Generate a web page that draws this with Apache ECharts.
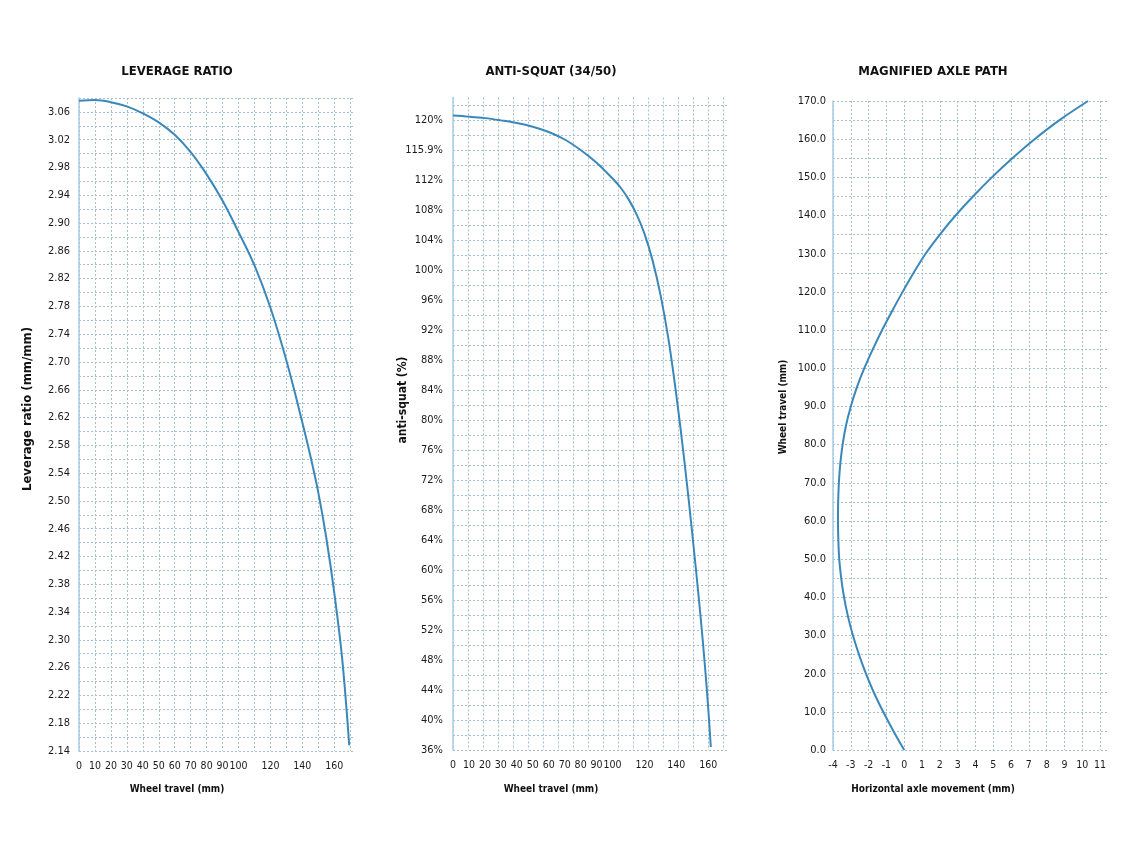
<!DOCTYPE html>
<html>
<head>
<meta charset="utf-8">
<style>
html,body{margin:0;padding:0;background:#fff;}
#chart{width:1140px;height:854px;}
</style>
<script src="https://cdn.jsdelivr.net/npm/echarts@6/dist/echarts.min.js"></script>
</head>
<body>
<div id="chart"></div>
<script>
// ---- Data ----
const titles = ['LEVERAGE RATIO', 'ANTI-SQUAT (34/50)', 'MAGNIFIED AXLE PATH'];
const xNames = ['Wheel travel (mm)', 'Wheel travel (mm)', 'Horizontal axle movement (mm)'];
const yNames = ['Leverage ratio (mm/mm)', 'anti-squat (%)', 'Wheel travel (mm)'];

// Leverage ratio vs wheel travel
const lrTravel = [0, 10, 20, 30, 40, 50, 60, 70, 80, 90, 100, 110, 120, 130, 140, 145, 150, 155, 160, 165, 169.4];
const lrValues = [3.076, 3.077, 3.074, 3.068, 3.058, 3.045, 3.027, 3.002, 2.970, 2.932, 2.887, 2.839, 2.778, 2.702, 2.613, 2.565, 2.512, 2.447, 2.368, 2.272, 2.148];

// Anti-squat vs wheel travel
const asTravel = [0, 10, 20, 30, 40, 50, 60, 70, 80, 90, 100, 105, 110, 115, 120, 125, 130, 135, 140, 145, 150, 155, 158, 160, 161.6];
const asValues = [120.6, 120.45, 120.25, 119.95, 119.6, 119.1, 118.4, 117.4, 116.0, 114.3, 112.2, 111.0, 109.45, 107.45, 104.85, 101.35, 96.75, 90.85, 83.3, 74.6, 64.8, 54.2, 47.0, 41.5, 36.4];

// Axle path: horizontal movement vs wheel travel
const axleTravel = [0, 5, 10, 15, 20, 25, 30, 35, 40, 45, 50, 55, 60, 65, 70, 75, 80, 85, 90, 95, 100, 105, 110, 115, 120, 125, 130, 135, 140, 145, 150, 155, 160, 165, 170];
const axleX = [0, -0.61, -1.18, -1.70, -2.15, -2.54, -2.88, -3.16, -3.38, -3.54, -3.65, -3.70, -3.72, -3.71, -3.67, -3.59, -3.46, -3.27, -3.00, -2.66, -2.24, -1.76, -1.24, -0.68, -0.09, 0.53, 1.20, 2.00, 2.88, 3.86, 4.92, 6.07, 7.32, 8.72, 10.32];

// ---- Styles ----
const FONT = "'DejaVu Sans Condensed', 'Liberation Sans Narrow', 'Roboto', sans-serif";
const LINE_COLOR = '#3a88b9';
const GRID_COLOR = '#a3c1d3';
const AXIS_COLOR = '#a9cde3';
const TEXT_COLOR = '#1a1a1a';

const splitStyle = { show: true, showMaxLine: false, lineStyle: { color: GRID_COLOR, type: [2, 2], width: 1 } };
const labelStyle = { color: TEXT_COLOR, fontFamily: FONT, fontSize: 11 };
const xLabelStyle = { color: TEXT_COLOR, fontFamily: FONT, fontSize: 10.5 };

function zip(a, b) { return a.map((v, i) => [v, b[i]]); }

const grids = [
  { left: 79, top: 98, width: 276, height: 653 },
  { left: 453, top: 97.5, width: 276, height: 652.5 },
  { left: 833, top: 101, width: 276, height: 649 }
];

const travelLabel = v => (v <= 100 || (v % 20 === 0 && v <= 160)) ? String(v) : '';

const xAxes = [
  {
    gridIndex: 0, type: 'value', min: 0, max: 173, interval: 10,
    axisLine: { show: false }, axisTick: { show: false },
    splitLine: splitStyle,
    axisLabel: Object.assign({ margin: 10, formatter: travelLabel }, xLabelStyle)
  },
  {
    gridIndex: 1, type: 'value', min: 0, max: 173, interval: 10,
    axisLine: { show: false }, axisTick: { show: false },
    splitLine: { show: false },
    axisLabel: Object.assign({ margin: 10, formatter: travelLabel }, xLabelStyle)
  },
  {
    gridIndex: 2, type: 'value', min: -4, max: 11.5, interval: 1,
    axisLine: { show: false, onZero: false }, axisTick: { show: false },
    splitLine: splitStyle,
    axisLabel: Object.assign({ margin: 10, formatter: v => Number.isInteger(v) ? String(v) : '' }, xLabelStyle)
  },
  {
    // background grid columns of the anti-squat panel
    gridIndex: 1, type: 'value', min: 0, max: 18.4, interval: 1, position: 'top',
    axisLine: { show: false }, axisTick: { show: false }, axisLabel: { show: false },
    splitLine: splitStyle
  }
];

const yAxes = [
  {
    gridIndex: 0, type: 'value', min: 2.14, max: 3.08, interval: 0.02,
    axisLine: { show: true, onZero: false, lineStyle: { color: AXIS_COLOR, width: 1.5 } }, axisTick: { show: false },
    splitLine: { show: true, lineStyle: { color: GRID_COLOR, type: [2, 2], width: 1 } },
    axisLabel: Object.assign({ margin: 9, formatter: v => { const k = Math.round((v - 2.14) / 0.02); return (k % 2 === 0 && k < 47) ? v.toFixed(2) : ''; } }, labelStyle)
  },
  {
    gridIndex: 1, type: 'value', min: 36, max: 123, interval: 2,
    axisLine: { show: true, onZero: false, lineStyle: { color: AXIS_COLOR, width: 1.5 } }, axisTick: { show: false },
    splitLine: splitStyle,
    axisLabel: Object.assign({ margin: 10, formatter: v => { if (!Number.isInteger(v) || (v - 36) % 4 !== 0) return ''; return v === 116 ? '115.9%' : v + '%'; } }, labelStyle)
  },
  {
    gridIndex: 2, type: 'value', min: 0, max: 170, interval: 5,
    axisLine: { show: true, onZero: false, lineStyle: { color: AXIS_COLOR, width: 1.5 } }, axisTick: { show: false },
    splitLine: { show: true, lineStyle: { color: GRID_COLOR, type: [2, 2], width: 1 } },
    axisLabel: Object.assign({ margin: 7, formatter: v => v % 10 === 0 ? v.toFixed(1) : '' }, labelStyle)
  }
];

const lineCommon = { type: 'line', showSymbol: false, symbol: 'none', smooth: 0.35, lineStyle: { color: LINE_COLOR, width: 2 }, z: 5 };

const series = [
  Object.assign({ xAxisIndex: 0, yAxisIndex: 0, data: zip(lrTravel, lrValues) }, lineCommon),
  Object.assign({ xAxisIndex: 1, yAxisIndex: 1, data: zip(asTravel, asValues) }, lineCommon),
  Object.assign({ xAxisIndex: 2, yAxisIndex: 2, data: zip(axleX, axleTravel) }, lineCommon)
];

const centers = [177, 551, 933];
const yNameX = [28, 403, 783];
const yNameY = [409, 400, 407];
const yNameSize = [13, 12, 10];

const graphic = [];
for (let i = 0; i < 3; i++) {
  graphic.push({ type: 'text', x: centers[i], y: 72, style: { text: titles[i], align: 'center', verticalAlign: 'middle', font: "bold 13px " + FONT, fill: '#111' } });
  graphic.push({ type: 'text', x: centers[i], y: 789, style: { text: xNames[i], align: 'center', verticalAlign: 'middle', font: "bold 10px " + FONT, fill: '#111' } });
  graphic.push({ type: 'text', x: yNameX[i], y: yNameY[i], rotation: Math.PI / 2, style: { text: yNames[i], align: 'center', verticalAlign: 'middle', font: "bold " + yNameSize[i] + "px " + FONT, fill: '#111' } });
}

const chart = echarts.init(document.getElementById('chart'), null, { renderer: 'canvas' });
chart.setOption({
  backgroundColor: '#ffffff',
  animation: false,
  grid: grids,
  xAxis: xAxes,
  yAxis: yAxes,
  series: series,
  graphic: graphic
});
</script>
</body>
</html>
